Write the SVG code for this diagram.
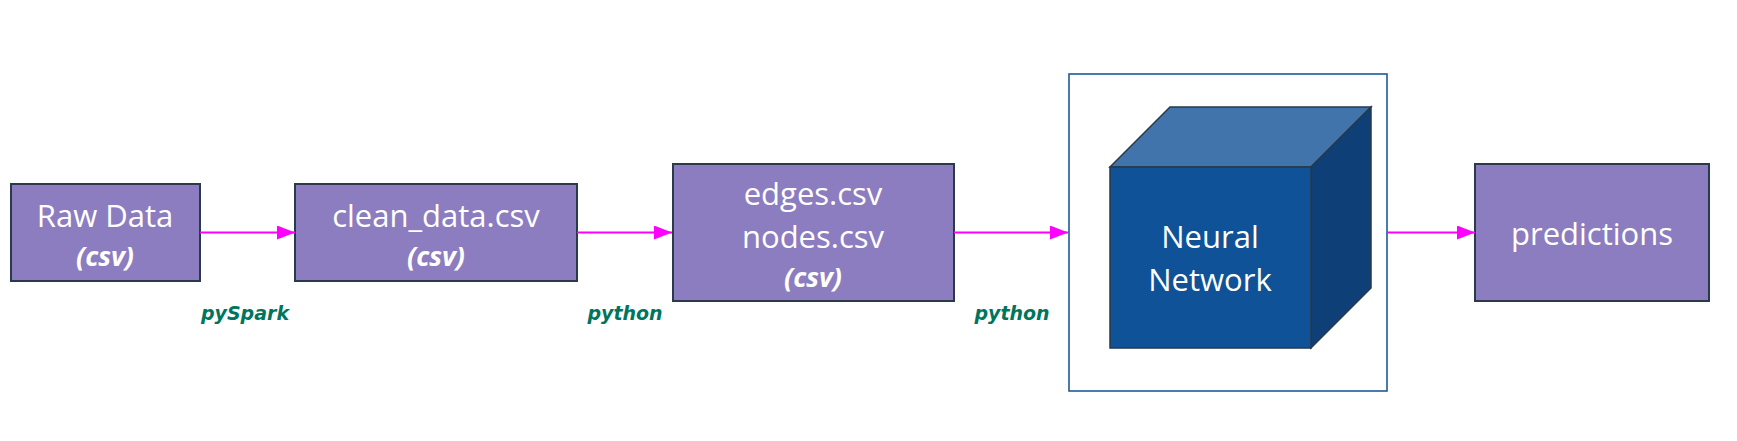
<svg xmlns="http://www.w3.org/2000/svg" width="1737" height="441" viewBox="0 0 1737 441">
<style>
.box{fill:#8c7dc0;stroke:#2b3a4a;stroke-width:2}
.t{font-family:"Open Sans","Liberation Sans",Arial,sans-serif;font-size:31px;fill:#ffffff;text-anchor:middle}
.c{font-family:"Open Sans","Liberation Sans",Arial,sans-serif;font-size:27px;font-weight:bold;font-style:italic;fill:#ffffff;text-anchor:middle}
.lbl{font-family:"DejaVu Sans",Verdana,sans-serif;font-size:19px;font-weight:bold;font-style:italic;fill:#00755e;text-anchor:middle}
.conn{stroke:#ff00ff;stroke-width:2;fill:none;marker-end:url(#ah)}
</style>
<defs>
<marker id="ah" markerWidth="18" markerHeight="14" refX="18" refY="7" orient="auto" markerUnits="userSpaceOnUse">
<path d="M0,0 L18,7 L0,14 Z" fill="#ff00ff"/>
</marker>
</defs>
<rect width="1737" height="441" fill="#ffffff"/>
<g id="raw">
<rect class="box" x="11" y="184" width="189" height="97"/>
<text class="t" x="105" y="227">Raw Data</text>
<text class="c" x="105" y="266">(csv)</text>
</g>
<g id="clean">
<rect class="box" x="295" y="184" width="282" height="97"/>
<text class="t" x="436" y="227">clean_data.csv</text>
<text class="c" x="436" y="266">(csv)</text>
</g>
<g id="edges">
<rect class="box" x="673" y="164" width="281" height="137"/>
<text class="t" x="813" y="205">edges.csv</text>
<text class="t" x="813" y="248">nodes.csv</text>
<text class="c" x="813" y="287">(csv)</text>
</g>
<g id="nn">
<rect x="1069" y="74" width="318" height="317" fill="#ffffff" stroke="#1f5a9a" stroke-width="1.6"/>
<polygon points="1110,167 1170,107 1371,107 1311,167" fill="#4174aa" stroke="#263a4a" stroke-width="1.5"/>
<polygon points="1311,167 1371,107 1371,288 1311,348" fill="#0e3f77" stroke="#263a4a" stroke-width="1.5"/>
<rect x="1110" y="167" width="201" height="181" fill="#0f5297" stroke="#263a4a" stroke-width="1.5"/>
<text class="t" x="1210" y="248">Neural</text>
<text class="t" x="1210" y="291">Network</text>
</g>
<g id="pred">
<rect class="box" x="1475" y="164" width="234" height="137"/>
<text class="t" x="1592" y="245">predictions</text>
</g>
<g id="connectors">
<line class="conn" x1="200" y1="232.5" x2="295" y2="232.5"/>
<line class="conn" x1="577" y1="232.5" x2="672" y2="232.5"/>
<line class="conn" x1="954" y1="232.5" x2="1068" y2="232.5"/>
<line class="conn" x1="1387" y1="232.5" x2="1475" y2="232.5"/>
<text class="lbl" x="245" y="320">pySpark</text>
<text class="lbl" x="625" y="320">python</text>
<text class="lbl" x="1012" y="320">python</text>
</g>
</svg>
